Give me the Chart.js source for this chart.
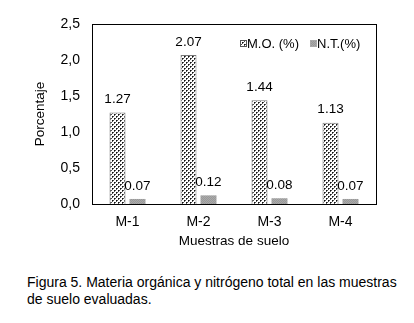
<!DOCTYPE html>
<html>
<head>
<meta charset="utf-8">
<script src="https://cdn.jsdelivr.net/npm/chart.js@4.4.0/dist/chart.umd.min.js"></script>
<style>
  body { margin: 0; background: #fff; width: 414px; height: 323px; position: relative; overflow: hidden; }
  #wrap { position: absolute; left: 0; top: 0; width: 414px; height: 260px; }
  #caption { position: absolute; left: 27px; top: 274px; font: 14px "Liberation Sans", Arial, sans-serif; color: #000; line-height: 17px; }
</style>
</head>
<body>
<div id="wrap"><canvas id="myChart" width="414" height="260"></canvas></div>
<div id="caption">Figura 5. Materia orgánica y nitrógeno total en las muestras<br>de suelo evaluadas.</div>
<script>
// data
const categories = ['M-1', 'M-2', 'M-3', 'M-4'];
const moValues = [1.27, 2.07, 1.44, 1.13];
const ntValues = [0.07, 0.12, 0.08, 0.07];
const seriesNames = ['M.O. (%)', 'N.T.(%)'];
const yTicks = [0, 0.5, 1.0, 1.5, 2.0, 2.5];

const FONT = '"Liberation Sans", Arial, sans-serif';

// dotted fill like the original figure
function makeDots() {
  const c = document.createElement('canvas');
  c.width = 4; c.height = 4;
  const g = c.getContext('2d');
  g.fillStyle = '#fff';
  g.fillRect(0, 0, 4, 4);
  g.fillStyle = '#111';
  g.fillRect(0, 0, 1, 1);
  g.fillRect(2, 2, 1, 1);
  g.fillStyle = '#555';
  g.fillRect(1, 0, 1, 1);
  g.fillRect(3, 2, 1, 1);
  g.fillRect(0, 1, 1, 1);
  g.fillRect(2, 3, 1, 1);
  return g.createPattern(c, 'repeat');
}
function makeGrey() {
  const c = document.createElement('canvas');
  c.width = 2; c.height = 2;
  const g = c.getContext('2d');
  g.fillStyle = '#aaa';
  g.fillRect(0, 0, 2, 2);
  g.fillStyle = '#999';
  g.fillRect(0, 0, 1, 1);
  g.fillRect(1, 1, 1, 1);
  return g.createPattern(c, 'repeat');
}

const ctx = document.getElementById('myChart').getContext('2d');
const moFill = makeDots();
const ntFill = makeGrey();

// values above bars
const labelPlugin = {
  id: 'barLabels',
  afterDatasetsDraw(chart) {
    const c = chart.ctx;
    c.save();
    c.font = '13.5px ' + FONT;
    c.fillStyle = '#000';
    c.textAlign = 'center';
    c.textBaseline = 'middle';
    chart.data.datasets.forEach((ds, i) => {
      chart.getDatasetMeta(i).data.forEach((bar, j) => {
        c.fillText(ds.data[j].toFixed(2), bar.x, bar.y - 13);
      });
    });
    c.restore();
  }
};

// legend drawn inside plot, top right
const legendPlugin = {
  id: 'innerLegend',
  afterDraw(chart) {
    const c = chart.ctx;
    c.save();
    c.font = '13px ' + FONT;
    c.textBaseline = 'middle';
    const items = [[240, moFill, '#555'], [310, ntFill, '#aaa']];
    items.forEach((it, i) => {
      c.fillStyle = it[1];
      c.fillRect(it[0], 40, 7, 7);
      c.strokeStyle = it[2];
      c.strokeRect(it[0] + 0.5, 40.5, 6, 6);
      c.fillStyle = '#000';
      c.fillText(seriesNames[i], it[0] + 7, 44);
    });
    c.restore();
  }
};

// frame around plot
const framePlugin = {
  id: 'frame',
  afterDraw(chart) {
    const a = chart.chartArea;
    const c = chart.ctx;
    c.save();
    c.strokeStyle = '#000';
    c.lineWidth = 1;
    c.strokeRect(Math.round(a.left) + 0.5, Math.round(a.top) + 0.5, Math.round(a.right - a.left), Math.round(a.bottom - a.top));
    c.restore();
  }
};

new Chart(ctx, {
  type: 'bar',
  data: {
    labels: categories,
    datasets: [{
      label: seriesNames[0],
      data: moValues,
      backgroundColor: moFill,
      borderColor: '#777',
      borderWidth: 1,
      categoryPercentage: 0.563,
      barPercentage: 0.8
    }, {
      label: seriesNames[1],
      data: ntValues,
      backgroundColor: ntFill,
      borderWidth: 0,
      categoryPercentage: 0.563,
      barPercentage: 0.8
    }]
  },
  options: {
    responsive: false,
    animation: false,
    layout: { padding: { top: 24, right: 38, left: 32, bottom: 7 } },
    plugins: { legend: { display: false }, tooltip: { enabled: false } },
    scales: {
      x: {
        grid: { display: false, drawTicks: false },
        border: { display: false },
        ticks: { color: '#000', font: { family: FONT, size: 14 }, padding: 10 },
        title: { display: true, text: 'Muestras de suelo', color: '#000', font: { family: FONT, size: 13.5 }, padding: { top: 2 } },
        afterFit(s) { s.height = 49; }
      },
      y: {
        min: 0,
        max: 2.5,
        afterBuildTicks(s) { s.ticks = yTicks.map(v => ({ value: v })); },
        grid: { display: false, drawTicks: false },
        border: { display: false },
        ticks: {
          color: '#000',
          font: { family: FONT, size: 14 },
          padding: 12,
          callback: v => v.toFixed(1).replace('.', ',')
        },
        title: { display: true, text: 'Porcentaje', color: '#000', font: { family: FONT, size: 13.5 }, padding: 0 },
        afterFit(s) { s.width = 60; }
      }
    }
  },
  plugins: [labelPlugin, legendPlugin, framePlugin]
});
</script>
</body>
</html>
